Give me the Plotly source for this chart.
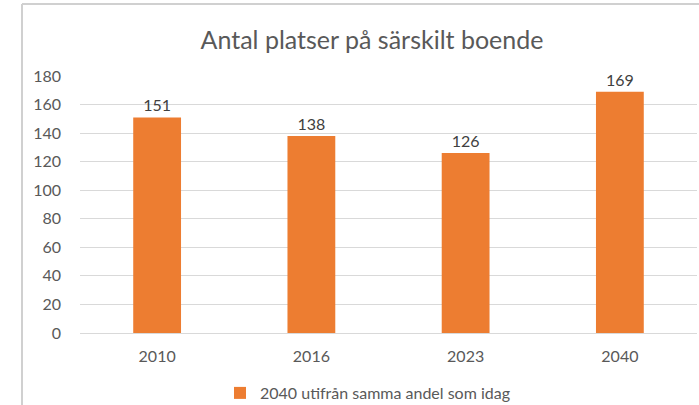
import plotly.graph_objects as go

categories = ["2010", "2016", "2023", "2040"]
values = [151, 138, 126, 169]
series_name = "2040 utifrån samma andel som idag"
y_ticks = [0, 20, 40, 60, 80, 100, 120, 140, 160, 180]

W, H = 699, 405
ml, mr, mt, mb = 80, 2, 76, 72
pw, ph = W - ml - mr, H - mt - mb

def px(x):
    return (x - ml) / pw

def py(y):
    return (H - mb - y) / ph

fig = go.Figure()
fig.add_trace(go.Bar(
    x=categories, y=values, name=series_name,
    marker=dict(color="#ED7D31", line=dict(width=0)),
    text=[str(v) for v in values], textposition="outside",
    textfont=dict(size=16, color="#404040", family="Lato"),
    cliponaxis=False, showlegend=True,
))

fig.update_layout(
    width=W, height=H,
    margin=dict(l=ml, r=mr, t=mt, b=mb, autoexpand=False),
    paper_bgcolor="white", plot_bgcolor="white",
    font=dict(family="Lato", color="#595959", size=16),
    bargap=0.69,
    title=dict(text="Antal platser på särskilt boende", xref="container", x=372 / W,
               xanchor="center", yref="container", y=1 - 40 / H, yanchor="middle",
               font=dict(size=25, color="#595959", family="Lato")),
    xaxis=dict(showgrid=False, showline=False, ticks="", ticklabelstandoff=12,
               tickfont=dict(size=16, color="#595959")),
    yaxis=dict(range=[0, 180], tickvals=y_ticks, showgrid=True, gridcolor="#D9D9D9",
               gridwidth=1, zeroline=True, zerolinecolor="#D9D9D9", zerolinewidth=1,
               showline=False, ticks="", ticklabelstandoff=18,
               tickfont=dict(size=16, color="#595959")),
    legend=dict(orientation="h", x=px(368), xanchor="center", y=py(393), yanchor="middle",
                font=dict(size=16, color="#595959"), itemwidth=30),
    showlegend=True,
    shapes=[
        dict(type="line", xref="paper", yref="paper", x0=px(22), x1=px(720), y0=py(4), y1=py(4),
             line=dict(color="#D0D0D0", width=2)),
        dict(type="line", xref="paper", yref="paper", x0=px(22), x1=px(22), y0=py(4), y1=py(420),
             line=dict(color="#D0D0D0", width=2)),
    ],
)

fig.write_html("out.html", config={"displayModeBar": False},
               post_script="document.body.style.margin='0';")
